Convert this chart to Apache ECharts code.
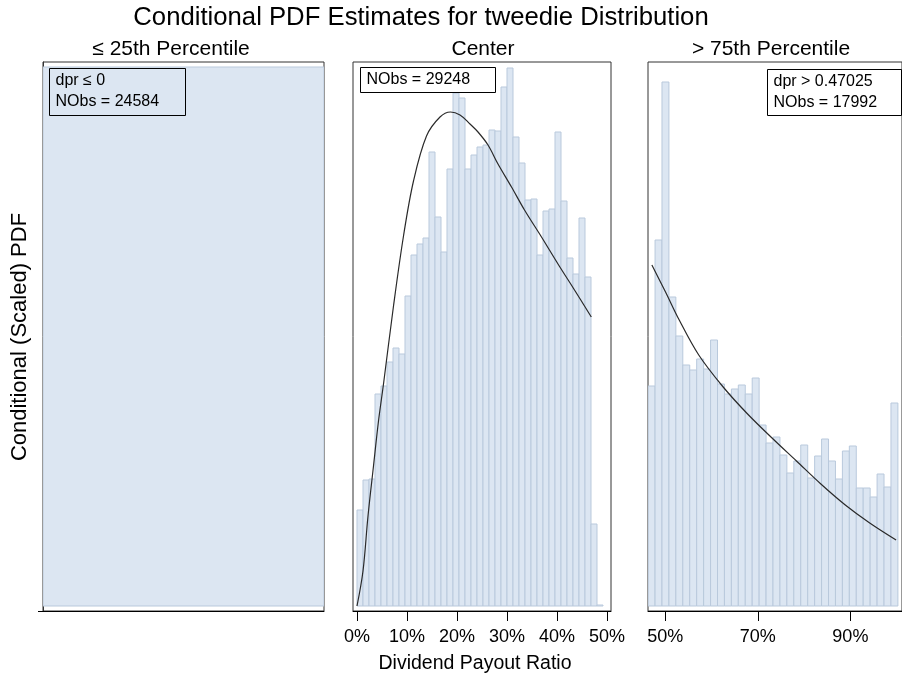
<!DOCTYPE html>
<html>
<head>
<meta charset="utf-8">
<script src="https://cdn.jsdelivr.net/npm/echarts@6/dist/echarts.min.js"></script>
<style>
html,body{margin:0;padding:0;background:#fff;}
#chart{width:902px;height:679px;}
</style>
</head>
<body>
<div id="chart"></div>
<script>
// ---------- data ----------
const panelTitles = ['\u2264 25th Percentile', 'Center', '> 75th Percentile'];
const legendLeft = ['dpr \u2264 0', 'NObs = 24584'];
const legendCenter = ['NObs = 29248'];
const legendRight = ['dpr > 0.47025', 'NObs = 17992'];

// left panel: single mass (dpr <= 0)
const leftBin = [0, 1];
const leftHeight = 539;

// center panel histogram
const centerBinStart = 0;
const centerBinWidth = 0.012;
const centerHeights = [96, 126, 127, 212, 220, 244, 258, 252, 310, 351, 362, 368, 454, 389, 354, 437,
  513, 508, 437, 451, 459, 461, 476, 475, 519, 538, 469, 443, 406, 407, 351, 395, 397, 474, 405, 348,
  332, 388, 329, 82, 1];
const centerCurveX = [0, 0.012, 0.022, 0.033, 0.043, 0.053, 0.073, 0.093, 0.113, 0.139, 0.166, 0.187,
  0.206, 0.226, 0.242, 0.262, 0.282, 0.309, 0.335, 0.369, 0.402, 0.435, 0.4686];
const centerCurveY = [0, 35, 90, 140, 185, 222, 300, 370, 425, 470, 489, 494,
  491, 482, 474, 461, 442, 419, 396, 369, 342, 316, 289];
const centerTicks = [0, 0.1, 0.2, 0.3, 0.4, 0.5];

// right panel histogram
const rightBinStart = 0.46275;
const rightBinWidth = 0.015;
const rightHeights = [220, 366, 524, 309, 270, 241, 236, 247, 237, 266, 222, 212, 217, 221, 212, 228,
  181, 163, 169, 151, 133, 145, 161, 128, 150, 167, 145, 127, 155, 160, 118, 118, 109, 132, 119, 203];
const rightCurveX = [0.4709, 0.5004, 0.53, 0.5722, 0.625, 0.6778, 0.7306, 0.7834, 0.8362, 0.889,
  0.9418, 0.9988];
const rightCurveY = [341, 314, 286, 251, 219, 192, 168, 145, 122, 101, 83, 66];
const rightTicks = [0.5, 0.7, 0.9];

// ---------- chart ----------
const FONT = '"Liberation Sans", Arial, sans-serif';
const BAR_FILL = '#dce6f2';
const BAR_EDGE = '#b9c9dc';
const Y_MIN = -5, Y_MAX = 544;

function bins(start, width, heights) {
  return heights.map((h, i) => [start + i * width, start + (i + 1) * width, h]);
}
function zip(xs, ys) { return xs.map((x, i) => [x, ys[i]]); }
function pct(v) { return Math.round(v * 100) + '%'; }

function histSeries(idx, data) {
  return {
    type: 'custom', xAxisIndex: idx, yAxisIndex: idx, clip: true, silent: true,
    encode: { x: [0, 1], y: 2 },
    data: data,
    renderItem: function (params, api) {
      const p0 = api.coord([api.value(0), 0]);
      const p1 = api.coord([api.value(1), api.value(2)]);
      return {
        type: 'rect',
        shape: { x: p0[0], y: p1[1], width: p1[0] - p0[0], height: p0[1] - p1[1] },
        style: { fill: BAR_FILL, stroke: BAR_EDGE, lineWidth: 1 }
      };
    }
  };
}
function curveSeries(idx, xs, ys) {
  return {
    type: 'line', xAxisIndex: idx, yAxisIndex: idx, data: zip(xs, ys), smooth: 0.35,
    showSymbol: false, silent: true, clip: true,
    lineStyle: { color: '#2a2a2a', width: 1.2 }, z: 5
  };
}

const grids = [
  { left: 43, top: 62, width: 281, height: 549 },
  { left: 353, top: 62, width: 258, height: 549 },
  { left: 648, top: 62, width: 260, height: 549 }
].map(g => Object.assign({ show: true, borderColor: '#333', borderWidth: 1, backgroundColor: 'transparent', containLabel: false }, g));

const xBase = {
  type: 'value', axisLine: { show: true, onZero: false, lineStyle: { color: '#000', width: 1 } },
  splitLine: { show: false },
  axisTick: { show: true, length: 10, lineStyle: { color: '#000', width: 1 } },
  axisLabel: { show: true, color: '#000', fontSize: 18, fontFamily: FONT, margin: 17, formatter: pct }
};
const xAxes = [
  Object.assign({}, xBase, { gridIndex: 0, min: leftBin[0], max: leftBin[1], axisTick: { show: false }, axisLabel: { show: false } }),
  Object.assign({}, xBase, { gridIndex: 1, min: -0.008, max: 0.508,
    axisTick: Object.assign({}, xBase.axisTick, { customValues: centerTicks }),
    axisLabel: Object.assign({}, xBase.axisLabel, { customValues: centerTicks }) }),
  Object.assign({}, xBase, { gridIndex: 2, min: 0.4625, max: 1.0116,
    axisTick: Object.assign({}, xBase.axisTick, { customValues: rightTicks }),
    axisLabel: Object.assign({}, xBase.axisLabel, { customValues: rightTicks }) })
];
const yAxes = [0, 1, 2].map(i => ({
  type: 'value', gridIndex: i, min: Y_MIN, max: Y_MAX,
  axisLine: { show: i === 0, lineStyle: { color: '#333' } },
  axisTick: { show: i === 0, length: 5, customValues: [Y_MIN], lineStyle: { color: '#000' } },
  axisLabel: { show: false }, splitLine: { show: false }
}));

function legendBox(x, y, w, h, lines) {
  const children = [{ type: 'rect', z: 100, shape: { x: 0, y: 0, width: w, height: h },
    style: { fill: 'none', stroke: '#000', lineWidth: 1 } }];
  lines.forEach((t, i) => children.push({ type: 'text', z: 100, x: 6, y: 12 + i * 21,
    style: { text: t, font: '16px ' + FONT, fill: '#000', verticalAlign: 'middle' } }));
  return { type: 'group', x: x + 0.5, y: y + 0.5, children: children };
}

const option = {
  animation: false,
  backgroundColor: '#fff',
  title: [
    { text: 'Conditional PDF Estimates for tweedie Distribution', left: 416, top: 0, textAlign: 'center',
      textStyle: { fontSize: 25.7, fontWeight: 'normal', color: '#000', fontFamily: FONT } },
    { text: panelTitles[0], left: 166, top: 34, textAlign: 'center',
      textStyle: { fontSize: 21, fontWeight: 'normal', color: '#000', fontFamily: FONT } },
    { text: panelTitles[1], left: 478, top: 34, textAlign: 'center',
      textStyle: { fontSize: 21, fontWeight: 'normal', color: '#000', fontFamily: FONT } },
    { text: panelTitles[2], left: 766, top: 34, textAlign: 'center',
      textStyle: { fontSize: 21, fontWeight: 'normal', color: '#000', fontFamily: FONT } }
  ],
  grid: grids,
  xAxis: xAxes,
  yAxis: yAxes,
  graphic: [
    { type: 'text', x: 20, y: 337, rotation: Math.PI / 2, z: 100,
      style: { text: 'Conditional (Scaled) PDF', font: '22px ' + FONT, fill: '#000', align: 'center', verticalAlign: 'middle' } },
    { type: 'text', x: 475, y: 664, z: 100,
      style: { text: 'Dividend Payout Ratio', font: '19.5px ' + FONT, fill: '#000', align: 'center', verticalAlign: 'middle' } },
    legendBox(49, 68, 136, 47, legendLeft),
    legendBox(360, 67, 135, 25, legendCenter),
    legendBox(767, 69, 134, 46, legendRight)
  ],
  series: [
    histSeries(0, [[leftBin[0], leftBin[1], leftHeight]]),
    histSeries(1, bins(centerBinStart, centerBinWidth, centerHeights)),
    curveSeries(1, centerCurveX, centerCurveY),
    histSeries(2, bins(rightBinStart, rightBinWidth, rightHeights)),
    curveSeries(2, rightCurveX, rightCurveY)
  ]
};
const chart = echarts.init(document.getElementById('chart'), null, { renderer: 'canvas' });
chart.setOption(option);
</script>
</body>
</html>
